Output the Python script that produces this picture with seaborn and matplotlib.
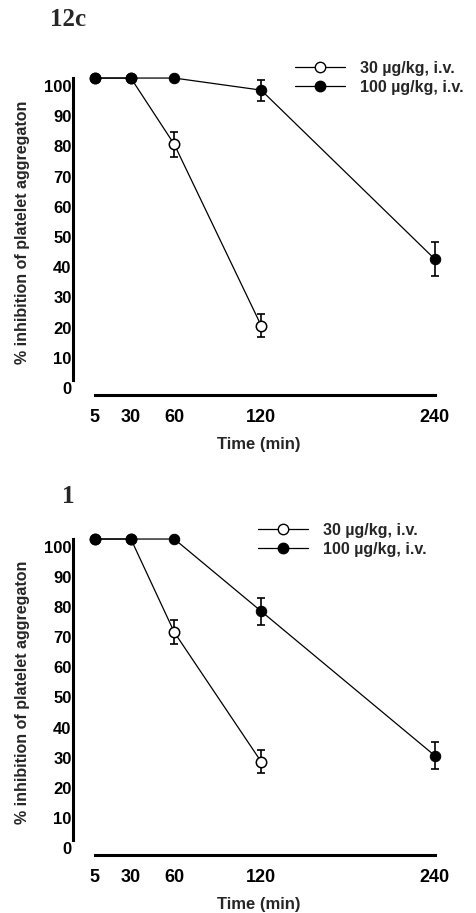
import matplotlib
matplotlib.use('Agg')
import matplotlib.pyplot as plt
import matplotlib.transforms as mtransforms
from matplotlib.lines import Line2D
import numpy as np
import pandas as pd
import seaborn as sns

# ── Data ──────────────────────────────────────────────────────────────────────
TIMES = [5, 30, 60, 120, 240]
TIMES_LOW = [5, 30, 60, 120]
LABEL_LOW = '30 µg/kg, i.v.'
LABEL_HIGH = '100 µg/kg, i.v.'

# panel "12c"
low_12c = [100, 100, 78, 18]
low_12c_err = [0, 0, 4, 3.7]
high_12c = [100, 100, 100, 96, 40]
high_12c_err = [0, 0, 0, 3.5, 5.6]

# panel "1"
low_1 = [100, 100, 69, 26]
low_1_err = [0, 0, 4, 3.8]
high_1 = [100, 100, 100, 76, 28]
high_1_err = [0, 0, 0, 4.5, 4.5]

Y_TICKS = list(range(0, 101, 10))

sns.set_theme(style='white')
plt.rcParams['font.family'] = ['Liberation Sans', 'DejaVu Sans']
plt.rcParams['font.weight'] = 'bold'

fig = plt.figure(figsize=(4.76, 9.13), dpi=100)
W, H = 476, 913


def px_axes(left, top, right, bottom):
    return fig.add_axes([left / W, 1 - bottom / H, (right - left) / W, (bottom - top) / H])


def draw_panel(ax, low, low_err, high, high_err, tag, tag_xy, leg_xy):
    df_low = pd.DataFrame({'t': TIMES_LOW, 'v': low})
    df_high = pd.DataFrame({'t': TIMES, 'v': high})

    ax.errorbar(TIMES_LOW, low, yerr=low_err, fmt='none', ecolor='black',
                elinewidth=1.2, capsize=3, capthick=1.2, zorder=2)
    ax.errorbar(TIMES, high, yerr=high_err, fmt='none', ecolor='black',
                elinewidth=1.2, capsize=3, capthick=1.2, zorder=2)
    sns.lineplot(data=df_low, x='t', y='v', ax=ax, color='black', linewidth=0.9,
                 marker='o', markersize=7.5, markerfacecolor='white',
                 markeredgecolor='black', markeredgewidth=1.1, zorder=3)
    sns.lineplot(data=df_high, x='t', y='v', ax=ax, color='black', linewidth=0.9,
                 marker='o', markersize=7.5, markerfacecolor='black',
                 markeredgecolor='black', zorder=4)

    ax.set_xlim(-10, 247)
    ax.set_ylim(-5, 103)
    ax.set_xticks(TIMES)
    ax.set_yticks(Y_TICKS)
    ax.set_xticklabels([str(t) for t in TIMES])
    ax.set_yticklabels([str(v) for v in Y_TICKS])

    for side in ['top', 'right']:
        ax.spines[side].set_visible(False)
    ax.spines['left'].set_bounds(0, 100)
    ax.spines['bottom'].set_bounds(5, 240)
    for side in ['left', 'bottom']:
        ax.spines[side].set_linewidth(2.2)
        ax.spines[side].set_color('black')

    ax.tick_params(axis='y', direction='in', length=3, width=2, pad=1,
                   labelsize=12, colors='black')
    ax.tick_params(axis='x', direction='in', length=3, width=2, pad=10,
                   labelsize=13, colors='black')
    # tick labels on the y axis sit a little below their ticks
    offset = mtransforms.ScaledTranslation(0, -8 / 100, fig.dpi_scale_trans)
    for lab in ax.get_yticklabels():
        lab.set_transform(lab.get_transform() + offset)
        lab.set_fontweight('bold')
    for lab in ax.get_xticklabels():
        lab.set_fontweight('bold')

    ax.set_xlabel('Time (min)', fontsize=12, fontweight='bold', labelpad=8)
    ax.set_ylabel('% inhibition of platelet aggregaton', fontsize=11.5,
                  fontweight='bold', labelpad=10)
    ax.grid(False)

    fig.text(tag_xy[0] / W, 1 - tag_xy[1] / H, tag, family='Liberation Serif',
             fontweight='bold', fontsize=18, ha='left', va='center')

    handles = [
        Line2D([], [], color='black', linewidth=0.9, marker='o', markersize=7.5,
               markerfacecolor='white', markeredgecolor='black'),
        Line2D([], [], color='black', linewidth=0.9, marker='o', markersize=7.5,
               markerfacecolor='black', markeredgecolor='black'),
    ]
    ax.legend(handles, [LABEL_LOW, LABEL_HIGH], loc='upper left',
              bbox_to_anchor=(leg_xy[0] / W, 1 - leg_xy[1] / H),
              bbox_transform=fig.transFigure, frameon=False, borderpad=0,
              borderaxespad=0, handlelength=3.1, handletextpad=1.0,
              labelspacing=0.25, prop={'size': 11.5, 'weight': 'bold'})


ax_top = px_axes(73, 69, 445, 395)
draw_panel(ax_top, low_12c, low_12c_err, high_12c, high_12c_err,
           '12c', (50, 20), (295, 61))

ax_bot = px_axes(73, 530, 445, 855)
draw_panel(ax_bot, low_1, low_1_err, high_1, high_1_err,
           '1', (62, 496), (258, 523))

fig.savefig('out.png', dpi=100)
